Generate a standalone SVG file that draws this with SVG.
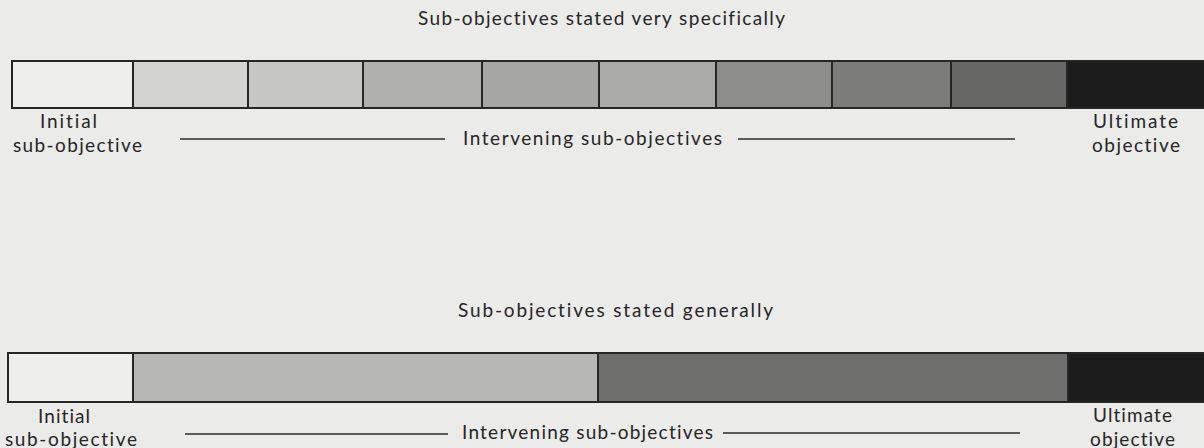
<svg xmlns="http://www.w3.org/2000/svg" width="1204" height="448" viewBox="0 0 1204 448">
<style>
.t{font-family:"Lato","Liberation Sans",sans-serif;font-size:19px;fill:#262626;font-variant-ligatures:none;font-feature-settings:"liga" 0}
.b{stroke:#262626;stroke-width:2}
.ln{stroke:#2b2b2b;stroke-width:1.6}
</style>
<rect width="1204" height="448" fill="#ebebe9"/>
<text class="t" x="418" y="25" textLength="367" lengthAdjust="spacing">Sub-objectives stated very specifically</text>
<g id="top-bar">
<g id="t1"><rect class="b" x="12" y="61" width="121" height="47" fill="#eeeeeb"/></g>
<g id="t2"><rect class="b" x="133" y="61" width="115" height="47" fill="#d3d3d1"/></g>
<g id="t3"><rect class="b" x="248" y="61" width="115" height="47" fill="#c6c6c4"/></g>
<g id="t4"><rect class="b" x="363" y="61" width="119" height="47" fill="#afafad"/></g>
<g id="t5"><rect class="b" x="482" y="61" width="117" height="47" fill="#a6a6a4"/></g>
<g id="t6"><rect class="b" x="599" y="61" width="117" height="47" fill="#aaaaa8"/></g>
<g id="t7"><rect class="b" x="716" y="61" width="116" height="47" fill="#8d8d8b"/></g>
<g id="t8"><rect class="b" x="832" y="61" width="119" height="47" fill="#7c7c7a"/></g>
<g id="t9"><rect class="b" x="951" y="61" width="116" height="47" fill="#676765"/></g>
<g id="t10"><rect class="b" x="1067" y="61" width="140" height="47" fill="#1c1c1c"/></g>
</g>
<g id="top-labels">
<text class="t" x="40" y="128" textLength="57" lengthAdjust="spacing">Initial</text>
<text class="t" x="13" y="152" textLength="129" lengthAdjust="spacing">sub-objective</text>
<text class="t" x="463" y="145" textLength="259" lengthAdjust="spacing">Intervening sub-objectives</text>
<text class="t" x="1093" y="128" textLength="85" lengthAdjust="spacing">Ultimate</text>
<text class="t" x="1092" y="152" textLength="88" lengthAdjust="spacing">objective</text>
</g>
<g id="connectors">
<line class="ln" x1="180" y1="139" x2="445" y2="139"/>
<line class="ln" x1="738" y1="139" x2="1015" y2="139"/>
<line class="ln" x1="185" y1="434" x2="448" y2="434"/>
<line class="ln" x1="723" y1="433" x2="1020" y2="433"/>
</g>
<text class="t" x="458" y="317" textLength="315" lengthAdjust="spacing">Sub-objectives stated generally</text>
<g id="bottom-bar">
<g id="b1"><rect class="b" x="8" y="353" width="125" height="49" fill="#eeeeeb"/></g>
<g id="b2"><rect class="b" x="133" y="353" width="465" height="49" fill="#b7b7b5"/></g>
<g id="b3"><rect class="b" x="598" y="353" width="470" height="49" fill="#6e6e6c"/></g>
<g id="b4"><rect class="b" x="1068" y="353" width="140" height="49" fill="#1c1c1c"/></g>
</g>
<g id="bottom-labels">
<text class="t" x="38" y="423" textLength="52" lengthAdjust="spacing">Initial</text>
<text class="t" x="5" y="446" textLength="132" lengthAdjust="spacing">sub-objective</text>
<text class="t" x="462" y="439" textLength="251" lengthAdjust="spacing">Intervening sub-objectives</text>
<text class="t" x="1093" y="422" textLength="79" lengthAdjust="spacing">Ultimate</text>
<text class="t" x="1090" y="446" textLength="85" lengthAdjust="spacing">objective</text>
</g>
</svg>
